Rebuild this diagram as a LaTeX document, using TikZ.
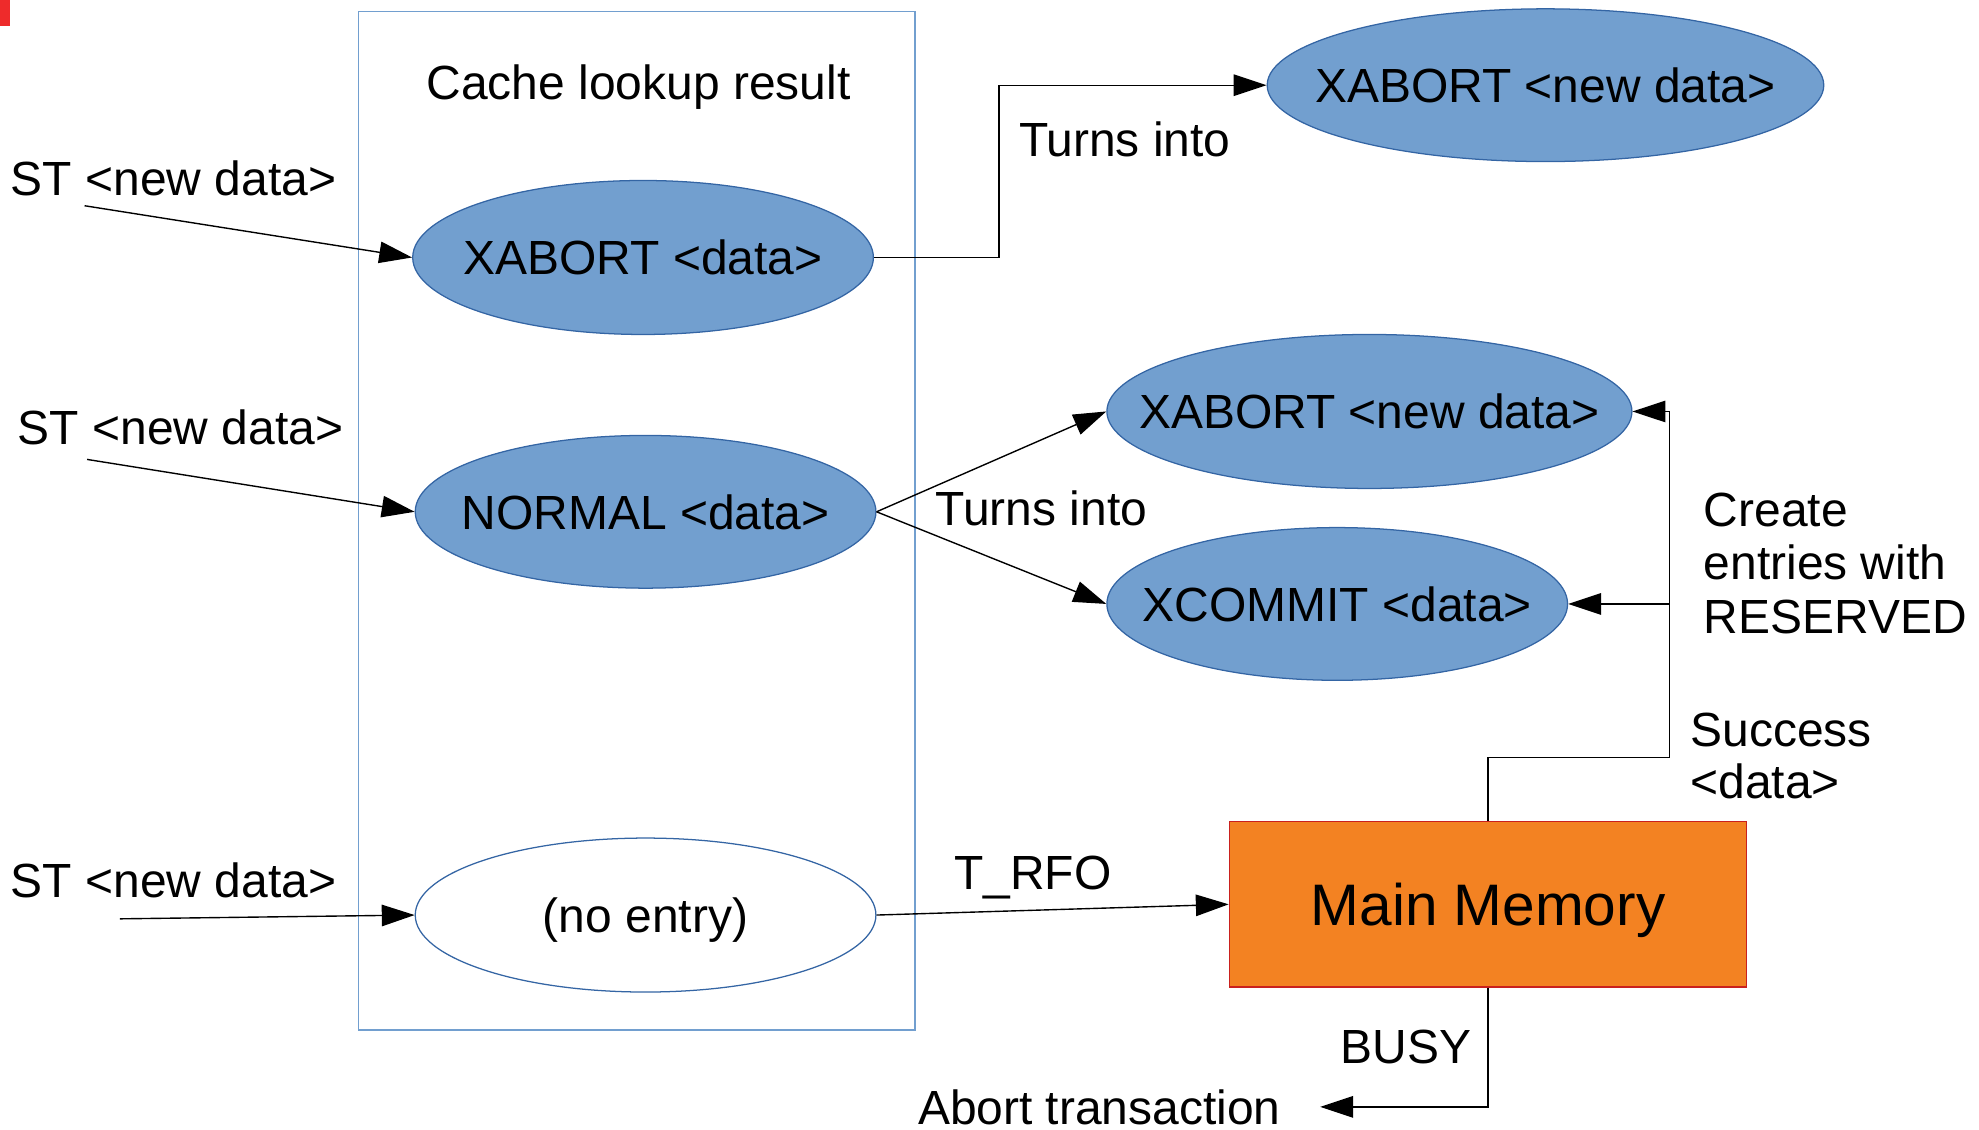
\documentclass[tikz,border=0pt]{standalone}
\usepackage{fontspec}
\setmainfont{Liberation Sans}
\usetikzlibrary{shapes.geometric,arrows.meta}
\definecolor{ellfill}{HTML}{729FCF}
\definecolor{ellline}{HTML}{3465A4}
\definecolor{memfill}{HTML}{F38222}
\definecolor{memline}{HTML}{C9211E}
\definecolor{boxline}{HTML}{729FCF}
\definecolor{redmark}{HTML}{EE2B2B}
\newcommand\myfs{\fontsize{19pt}{21.5pt}\selectfont}
\newcommand\mybig{\fontsize{23.2pt}{26pt}\selectfont}
\begin{document}
\begin{tikzpicture}[x=0.5pt,y=-0.5pt,
  state/.style={ellipse, draw=ellline, fill=ellfill, line width=0.5pt, inner sep=0pt,
    text height=13.7pt, text depth=0pt, font=\myfs},
  emptystate/.style={state, fill=white},
  lbl/.style={inner sep=0pt, font=\myfs},
  conn/.style={draw=black, line width=0.55pt},
  arr/.style={conn, -{Triangle[length=13pt,width=8.5pt]}}]
\useasboundingbox (0,0) rectangle (1568,895);
\fill[redmark] (0,0) rectangle (8,20.6);
% container
\node[draw=boxline, line width=0.5pt, minimum width=220.5pt, minimum height=403.4pt, inner sep=0pt] (box) at (504.5,412.6) {};
\node[lbl, anchor=base] (title) at (506,79) {Cache lookup result};
% ellipses
\node[state, minimum width=182.5pt, minimum height=61pt] (A) at (509.5,204) {\makebox[0pt]{XABORT <data>}};
\node[state, minimum width=182.5pt, minimum height=60.5pt] (B) at (511.5,405.5) {\makebox[0pt]{NORMAL <data>}};
\node[emptystate, minimum width=182.5pt, minimum height=61pt] (C) at (511.5,725) {\makebox[0pt]{(no entry)}};
\node[state, minimum width=220.5pt, minimum height=60.5pt] (D) at (1224.5,67.5) {\makebox[0pt]{XABORT <new data>}};
\node[state, minimum width=208pt, minimum height=61pt] (E) at (1085,326) {\makebox[0pt]{XABORT <new data>}};
\node[state, minimum width=182.5pt, minimum height=60.5pt] (F) at (1059.5,478.5) {\makebox[0pt]{XCOMMIT <data>}};
\node[draw=memline, fill=memfill, line width=0.5pt, minimum width=205pt, minimum height=65.5pt, inner sep=0pt,
  text height=16.7pt, text depth=0pt, font=\mybig] (MM) at (1179,716.5) {\makebox[0pt]{Main Memory}};
% labels
\node[lbl, anchor=base] (st1) at (137.5,155) {ST <new data>};
\node[lbl, anchor=base] (st2) at (143,352) {ST <new data>};
\node[lbl, anchor=base] (st3) at (137.5,711) {ST <new data>};
\node[lbl, anchor=base west] (t1) at (807,124) {Turns into};
\node[lbl, anchor=base west] (t2) at (741,416) {Turns into};
\node[lbl, anchor=base west] (trfo) at (755.6,705) {T\_RFO};
\node[lbl, anchor=base west] (cr1) at (1349.5,417.4) {Create};
\node[lbl, anchor=base west] (cr2) at (1349.5,459) {entries with};
\node[lbl, anchor=base west] (cr3) at (1349.5,502) {RESERVED};
\node[lbl, anchor=base west] (su1) at (1339,591.6) {Success};
\node[lbl, anchor=base west] (su2) at (1339,632.5) {<data>};
\node[lbl, anchor=base west] (busy) at (1062,842.5) {BUSY};
\node[lbl, anchor=base west] (abort) at (727,891) {Abort transaction};
% connectors
\coordinate (s1) at (67,163);
\coordinate (s2) at (69,364);
\coordinate (s3) at (95,728);
\draw[arr] (s1) -- (A.west);
\draw[arr] (s2) -- (B.west);
\draw[arr] (s3) -- (C.west);
\draw[arr] (A.east) -- ++(99,0) |- (D.west);
\draw[arr] (B.east) -- (E.west);
\draw[arr] (B.east) -- (F.west);
\draw[arr] (C.east) -- (MM.west);
\coordinate (j) at (1323,600);
\draw[arr] (MM.north) |- (j) |- (E.east);
\draw[arr] (j |- F.east) -- (F.east);
\coordinate (ab) at (1046,877);
\draw[arr] (MM.south) |- (ab);
\end{tikzpicture}
\end{document}
